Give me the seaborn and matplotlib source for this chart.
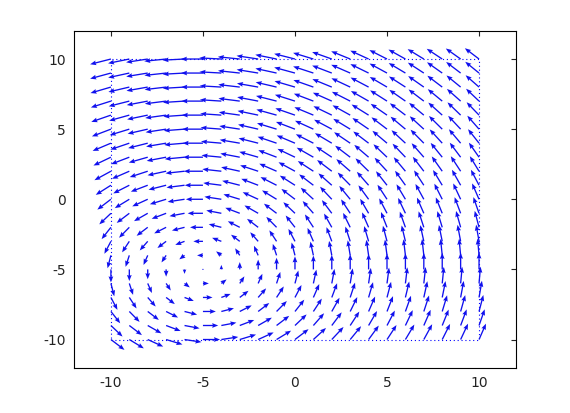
import numpy as np
import pandas as pd
import seaborn as sns
from matplotlib import pyplot as plt

# grid of arrow tails
x_points = list(range(-10, 11))
y_points = list(range(-10, 11))

# vortex centre and arrow length (data units) at whole radii 0..22
vortex_center = (-5, -5)
profile_radius = list(range(0, 23))
profile_length = [0.0, 0.32, 0.52, 0.70, 0.83, 0.93, 0.99, 1.04, 1.08, 1.11, 1.13, 1.15,
                  1.17, 1.18, 1.19, 1.20, 1.19, 1.17, 1.15, 1.13, 1.11, 1.09, 1.08]

# dotted frame
box_x = [-10, 10, 10, -10, -10]
box_y = [-10, -10, 10, 10, -10]

x_ticks = [-10, -5, 0, 5, 10]
y_ticks = [-10, -5, 0, 5, 10]

sns.set_theme(style="white")
plt.rcParams['font.family'] = ['DejaVu Sans']
plt.rcParams['axes.unicode_minus'] = False

X, Y = np.meshgrid(x_points, y_points)
dx = X - vortex_center[0]
dy = Y - vortex_center[1]
r = np.hypot(dx, dy)
length = np.interp(r, profile_radius, profile_length)
with np.errstate(invalid='ignore', divide='ignore'):
    U = np.where(r > 0, -dy / r * length, 0.0)
    V = np.where(r > 0, dx / r * length, 0.0)

fig = plt.figure(figsize=(5.70, 4.13), dpi=100)
ax = fig.add_axes([0.13, 0.11, 0.775, 0.815])

box = pd.DataFrame({'x': box_x, 'y': box_y})
sns.lineplot(data=box, x='x', y='y', sort=False, estimator=None, ax=ax,
             color='#0000ff', linestyle=(0, (1, 2.5)), linewidth=0.8)

ax.quiver(X, Y, U, V, color='#1010ee', angles='xy', scale_units='xy', scale=1,
          width=0.003, headwidth=3.6, headlength=4.6, headaxislength=4.1, zorder=3)

ax.set_xlim(-12, 12)
ax.set_ylim(-12, 12)
ax.set_xticks(x_ticks)
ax.set_yticks(y_ticks)
ax.set_xlabel('')
ax.set_ylabel('')
ax.tick_params(direction='in', length=3.5, width=0.8, top=True, right=True,
               labelsize=10, colors='#222222', pad=6)
for s in ax.spines.values():
    s.set_color('black')
    s.set_linewidth(0.8)

fig.savefig('out.png', dpi=100)
